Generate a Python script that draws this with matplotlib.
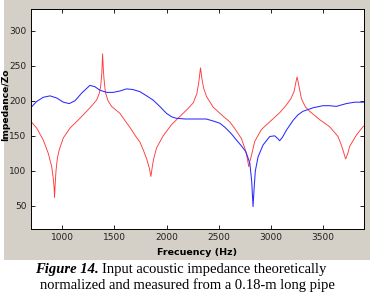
import numpy as np
import matplotlib
matplotlib.use("Agg")
import matplotlib.pyplot as plt
from matplotlib.patches import Rectangle

# ======================
# DATA
# ======================
freq_theory = [700, 757, 820, 868, 901, 915, 923, 928, 933, 942, 955, 973, 1012, 1076,
               1171, 1267, 1331, 1355, 1369, 1380, 1388, 1395, 1401, 1415, 1440, 1474,
               1554, 1601, 1650, 1697, 1745, 1777, 1810, 1835, 1850, 1862, 1875, 1905,
               1968, 2048, 2144, 2200, 2255, 2290, 2310, 2325, 2340, 2355, 2383, 2446,
               2541, 2605, 2650, 2717, 2750, 2770, 2787, 2800, 2813, 2844, 2908, 2988,
               3083, 3147, 3190, 3220, 3240, 3250, 3262, 3291, 3330, 3370, 3466, 3561,
               3641, 3670, 3690, 3714, 3735, 3753, 3817, 3880, 3889]
z_theory = [171, 161, 144, 125, 106, 90, 78, 62, 78, 100, 118, 130, 147, 161,
            175, 190, 201, 210, 220, 238, 267, 245, 232, 212, 200, 192,
            182, 172, 162, 151, 141, 130, 117, 104, 92, 104, 116, 133,
            150, 166, 180, 188, 197, 210, 228, 247, 230, 218, 206, 191,
            178, 170, 161, 146, 132, 120, 106, 115, 122, 142, 159, 170,
            183, 194, 203, 213, 228, 234, 225, 203, 191, 185, 173, 163,
            149, 138, 129, 117, 125, 135, 151, 163, 164]

freq_meas = [700, 757, 820, 885, 949, 1012, 1069, 1124, 1188, 1267, 1315, 1363, 1427,
             1490, 1554, 1618, 1680, 1745, 1810, 1872, 1935, 2000, 2050, 2096, 2180,
             2255, 2380, 2450, 2510, 2560, 2620, 2669, 2720, 2760, 2797, 2815, 2828,
             2838, 2850, 2876, 2924, 2988, 3035, 3065, 3083, 3110, 3147, 3211, 3258,
             3306, 3402, 3497, 3560, 3625, 3721, 3800, 3889]
z_meas = [190, 199, 205, 207, 204, 198, 196, 200, 211, 222, 220, 215, 212,
          212, 214, 217, 216, 213, 207, 201, 192, 182, 177, 175, 174,
          174, 174, 171, 168, 162, 153, 144, 135, 127, 111, 85, 49,
          75, 100, 120, 137, 149, 150, 146, 143, 148, 158, 172, 180,
          185, 190, 193, 193, 192, 196, 198, 198]

x_ticks = [1000, 1500, 2000, 2500, 3000, 3500]
y_ticks = [50, 100, 150, 200, 250, 300]

narrow = ["Liberation Sans Narrow", "DejaVu Sans"]

# ======================
# PLOT
# ======================
fig = plt.figure(figsize=(3.75, 2.99), dpi=100)
fig.patch.set_facecolor("white")

# grey matlab window background
fig.patches.append(Rectangle((0.0107, 0.1304), 0.976, 0.8696, transform=fig.transFigure,
                             facecolor="#d4d0c8", edgecolor="none", zorder=-1))

ax = fig.add_axes([0.0819, 0.2341, 0.8888, 0.7358])
ax.set_zorder(2)
ax.set_facecolor("white")
ax.plot(freq_theory, z_theory, color="#ff3a3a", lw=0.65)
ax.plot(freq_meas, z_meas, color="#2a2aff", lw=0.75)

ax.set_xlim(700, 3890)
ax.set_ylim(17, 331)
ax.set_xticks(x_ticks)
ax.set_yticks(y_ticks)
ax.tick_params(direction="in", length=3, width=0.6, top=True, right=True,
               labelsize=6.5, pad=3, colors="black")
for lab in ax.get_xticklabels() + ax.get_yticklabels():
    lab.set_family(narrow)
    lab.set_color("#222222")
for s in ax.spines.values():
    s.set_linewidth(0.7)

ax.set_xlabel("Frecuency (Hz)", fontsize=6.8, fontweight="bold", family=narrow)
ax.set_ylabel("Impedance/Zo", fontsize=6.6, fontweight="bold", family=narrow)
ax.xaxis.set_label_coords(0.5, -0.088)
ax.yaxis.set_label_coords(-0.062, 0.564)

# caption: bold italic lead-in, then plain text
cap_size = 10.5
y1 = 1 - 273 / 299
lead = fig.text(0.093, y1, "Figure 14.", ha="left", va="baseline", fontsize=cap_size,
                family="Liberation Serif", fontweight="bold", fontstyle="italic")
fig.canvas.draw()
bb = lead.get_window_extent().transformed(fig.transFigure.inverted())
fig.text(bb.x1 + 0.01, y1, "Input acoustic impedance theoretically",
         ha="left", va="baseline", fontsize=cap_size, family="Liberation Serif")
fig.text(0.5, 1 - 289 / 299, "normalized and measured from a 0.18-m long pipe",
         ha="center", va="baseline", fontsize=cap_size, family="Liberation Serif")

fig.savefig("out.png", dpi=100, facecolor="white")
